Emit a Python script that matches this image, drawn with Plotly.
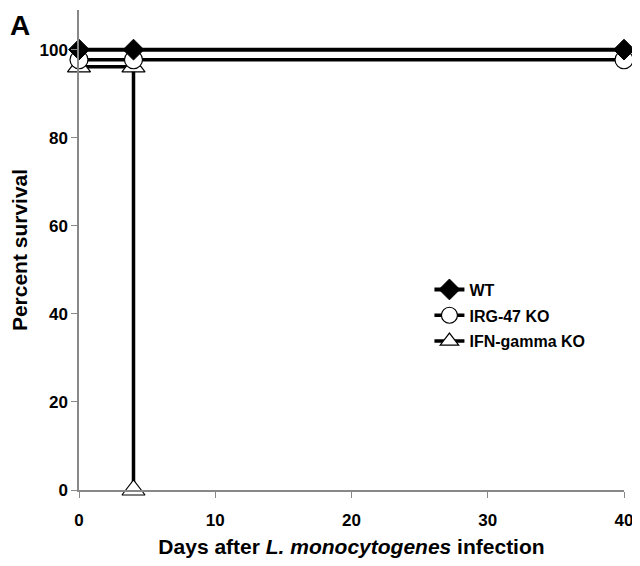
import plotly.graph_objects as go

days_wt = [0, 4, 40]
surv_wt = [100, 100, 100]
days_irg = [0, 4, 40]
surv_irg = [97.7, 97.7, 97.7]
days_ifn = [0, 4, 4]
surv_ifn = [96.1, 96.1, 0]

names = ["WT", "IRG-47 KO", "IFN-gamma KO"]
x_ticks = [0, 10, 20, 30, 40]
y_ticks = [0, 20, 40, 60, 80, 100]

fig = go.Figure()
fig.add_trace(go.Scatter(
    x=days_ifn, y=surv_ifn, name=names[2], mode="lines+markers",
    line=dict(color="black", width=3.5, shape="hv"),
    marker=dict(symbol="triangle-up", size=20, color="white",
                line=dict(color="black", width=1.2)),
    cliponaxis=False, legendrank=3, legendgroup="c"))
fig.add_trace(go.Scatter(
    x=days_irg, y=surv_irg, name=names[1], mode="lines+markers",
    line=dict(color="black", width=3.5, shape="hv"),
    marker=dict(symbol="circle", size=18, color="white",
                line=dict(color="black", width=1.2)),
    cliponaxis=False, legendrank=2, legendgroup="b"))
fig.add_trace(go.Scatter(
    x=days_wt, y=surv_wt, name=names[0], mode="lines+markers",
    line=dict(color="black", width=4, shape="hv"),
    marker=dict(symbol="diamond", size=16, color="black",
                line=dict(color="black", width=1)),
    cliponaxis=False, legendrank=1, legendgroup="a"))

font_family = "Liberation Sans, Arial, sans-serif"
# the page body has an 8px margin: the figure is sized so the page fits the window
fig.update_layout(
    width=624, height=550,
    margin=dict(l=71, r=8, t=2, b=68),
    plot_bgcolor="white", paper_bgcolor="white",
    font=dict(family=font_family, color="black"),
    showlegend=True,
    legend=dict(x=0.643, y=0.453, xanchor="left", yanchor="top",
                font=dict(size=16, family=font_family, weight="bold"),
                bgcolor="rgba(0,0,0,0)", tracegroupgap=2, itemwidth=30),
    xaxis=dict(range=[0, 40], tickvals=x_ticks, showgrid=False, zeroline=False,
               showline=True, linecolor="#888888", linewidth=1.5,
               ticks="outside", ticklen=6, tickcolor="#888888", automargin=False,
               ticklabeloverflow="allow", ticklabelstandoff=8,
               tickfont=dict(size=17, weight="bold"),
               title=dict(text="Days after <i>L. monocytogenes</i> infection",
                          font=dict(size=21, weight="bold"), standoff=16)),
    yaxis=dict(range=[0, 109], tickvals=y_ticks, showgrid=False, zeroline=False,
               showline=True, linecolor="#888888", linewidth=1.5,
               ticks="outside", ticklen=6, tickcolor="#888888", automargin=False,
               tickfont=dict(size=17, weight="bold"),
               title=dict(text="Percent survival",
                          font=dict(size=21, weight="bold"), standoff=12)),
    annotations=[dict(text="<b>A</b>", xref="paper", yref="paper",
                      x=(20 - 79) / 545, y=(490 - 26) / 480,
                      xanchor="center", yanchor="middle", showarrow=False,
                      font=dict(size=28, family=font_family))],
)

fig.write_html("out.html")
